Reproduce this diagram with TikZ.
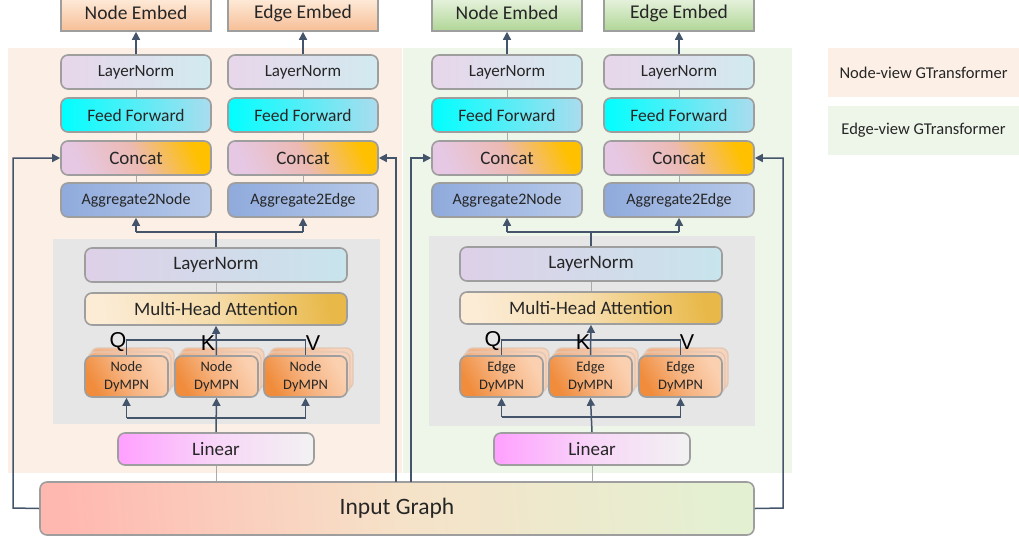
\documentclass[tikz,border=0pt]{standalone}
\usepackage{fontspec}
\setmainfont{Carlito}
\newfontfamily\qkvfont{Liberation Sans}
\usetikzlibrary{arrows.meta}
\definecolor{conn}{HTML}{44546A}
\definecolor{bord}{HTML}{9E9E9E}
\definecolor{thin}{HTML}{ABABAB}
\definecolor{panelO}{HTML}{FCEFE6}
\definecolor{panelG}{HTML}{EEF5E9}
\definecolor{panelGray}{HTML}{E6E6E6}
\tikzset{
  x=1pt, y=-1pt,
  box/.style={draw=bord, line width=1.6pt, rounded corners=7pt, inner sep=0pt, align=center, text=black!85},
  embedO/.style={draw=bord, line width=1.6pt, inner sep=0pt, minimum width=150pt, minimum height=36pt, top color=orange!12!white, bottom color={rgb,255:red,246;green,190;blue,150}, font=\fontsize{19.5}{20}\selectfont, text=black!85},
  embedG/.style={draw=bord, line width=1.6pt, inner sep=0pt, minimum width=150pt, minimum height=36pt, top color={rgb,255:red,236;green,245;blue,229}, bottom color={rgb,255:red,176;green,214;blue,150}, font=\fontsize{19.5}{20}\selectfont, text=black!85},
  colbox/.style={box, minimum width=150pt, minimum height=34pt},
  lnorm/.style={colbox, left color={rgb,255:red,232;green,214;blue,234}, right color={rgb,255:red,210;green,234;blue,240}, font=\fontsize{17}{18}\selectfont},
  ffwd/.style={colbox, left color={rgb,255:red,0;green,255;blue,255}, right color={rgb,255:red,170;green,220;blue,238}, font=\fontsize{17.5}{18}\selectfont},
  concat/.style={colbox, left color={rgb,255:red,230;green,200;blue,228}, right color={rgb,255:red,255;green,192;blue,0}, middle color={rgb,255:red,236;green,186;blue,180}, shading angle=115, font=\fontsize{19}{20}\selectfont},
  aggr/.style={colbox, left color={rgb,255:red,143;green,170;blue,220}, right color={rgb,255:red,184;green,202;blue,234}, font=\fontsize{16}{17}\selectfont},
  ilnorm/.style={box, minimum width=262pt, minimum height=34pt, left color={rgb,255:red,222;green,208;blue,232}, right color={rgb,255:red,200;green,228;blue,236}, font=\fontsize{19}{20}\selectfont},
  mha/.style={box, minimum width=262pt, minimum height=32pt, left color={rgb,255:red,252;green,236;blue,214}, right color={rgb,255:red,232;green,184;blue,72}, middle color={rgb,255:red,246;green,220;blue,170}, shading angle=100, font=\fontsize{19}{20}\selectfont},
  dympn/.style={box, minimum width=83pt, minimum height=41pt, left color={rgb,255:red,240;green,140;blue,60}, right color={rgb,255:red,251;green,208;blue,176}, middle color={rgb,255:red,246;green,180;blue,130}, shading angle=120, font=\fontsize{14.5}{18}\selectfont},
  dymback/.style={draw={rgb,255:red,226;green,200;blue,182}, line width=1.4pt, rounded corners=7pt, left color={rgb,255:red,242;green,170;blue,120}, right color={rgb,255:red,248;green,212;blue,188}, shading angle=120, minimum width=83pt, minimum height=41pt, inner sep=0pt},
  linbox/.style={box, minimum width=196pt, minimum height=32pt, left color={rgb,255:red,255;green,160;blue,255}, right color={rgb,255:red,242;green,242;blue,242}, middle color={rgb,255:red,248;green,214;blue,248}, font=\fontsize{19}{20}\selectfont},
  inputbox/.style={box, minimum width=714pt, minimum height=53pt, left color={rgb,255:red,255;green,184;blue,176}, right color={rgb,255:red,228;green,240;blue,210}, middle color={rgb,255:red,246;green,226;blue,200}, shading angle=95, font=\fontsize{23.5}{24}\selectfont},
  legendbox/.style={inner sep=0pt, minimum width=191pt, minimum height=49pt, font=\fontsize{16.5}{17}\selectfont, text=black!85},
  arr/.style={draw=conn, line width=1.5pt, -{Triangle[width=8pt,length=8pt]}},
  ln/.style={draw=conn, line width=1.5pt},
  gl/.style={draw=thin, line width=1pt},
  qkv/.style={font=\qkvfont\fontsize{21.5}{22}\selectfont, inner sep=0pt}
}
\begin{document}
\begin{tikzpicture}
\useasboundingbox (0,0) rectangle (1019,539);
% panels
\fill[panelO] (8,48) rectangle (402,473);
\fill[panelG] (403,48) rectangle (792,473);
\fill[panelGray] (53,239) rectangle (380,424);
\fill[panelGray] (429,236) rectangle (755,426);
% legend
\node[legendbox, fill=panelO] (legO) at (923.5,72.5) {Node-view GTransformer};
\node[legendbox, fill=panelG] (legG) at (923.5,130) {Edge-view GTransformer};

% embed boxes
\node[embedO] (neA) at (136,13) {Node Embed};
\node[embedO] (eeB) at (303,13) {Edge Embed};
\node[embedG] (neC) at (507,13) {Node Embed};
\node[embedG] (eeD) at (679,13) {Edge Embed};

% columns
\foreach \c/\x in {A/136,B/303,C/507,D/679}{
  \node[lnorm] (ln\c) at (\x,72) {LayerNorm};
  \node[ffwd] (ff\c) at (\x,115) {Feed Forward};
  \node[concat] (cc\c) at (\x,158) {Concat};
  \draw[gl] (ln\c.south) -- (ff\c.north);
  \draw[gl] (ff\c.south) -- (cc\c.north);
}
\node[aggr] (agA) at (136,200) {Aggregate2Node};
\node[aggr] (agB) at (303,200) {Aggregate2Edge};
\node[aggr] (agC) at (507,200) {Aggregate2Node};
\node[aggr] (agD) at (679,200) {Aggregate2Edge};
\foreach \c in {A,B,C,D}{\draw[gl] (cc\c.south) -- (ag\c.north);}
\draw[arr] (lnA.north) -- (neA.south);
\draw[arr] (lnB.north) -- (eeB.south);
\draw[arr] (lnC.north) -- (neC.south);
\draw[arr] (lnD.north) -- (eeD.south);

% inner blocks
\node[ilnorm] (ilL) at (216,265) {LayerNorm};
\node[mha] (mhL) at (216,309) {Multi-Head Attention};
\node[ilnorm] (ilR) at (591,264) {LayerNorm};
\node[mha] (mhR) at (591,308) {Multi-Head Attention};
\draw[gl] (ilL.south) -- (mhL.north);
\draw[gl] (ilR.south) -- (mhR.north);

% DyMPN stacks
\foreach \n/\x/\t in {dL1/126.5/Node, dL2/216.5/Node, dL3/305.5/Node, dR1/501.5/Edge, dR2/590.5/Edge, dR3/680.5/Edge}{
  \node[dymback] at (\x+6,368.5) {};
  \node[dymback] at (\x+3,372.5) {};
  \node[dympn] (\n) at (\x,376.5) {\t\\DyMPN};
}

% Q K V
\coordinate (qL) at (126.5,340);
\coordinate (vL) at (305.5,340);
\coordinate (qR) at (501.5,340);
\coordinate (vR) at (680.5,340);
\draw[ln] (dL1.north) -- (qL) -- (vL) -- (dL3.north);
\draw[arr] (dL2.north) -- (mhL.south);
\draw[ln] (dR1.north) -- (qR) -- (vR) -- (dR3.north);
\draw[arr] (dR2.north) -- (mhR.south);
\node[qkv] (QL) at (118,342) {Q};
\node[qkv] (KL) at (208,343) {K};
\node[qkv] (VL) at (313,343) {V};
\node[qkv] (QR) at (493,341) {Q};
\node[qkv] (KR) at (583,342) {K};
\node[qkv] (VR) at (687,342) {V};

% Linear
\node[linbox] (liL) at (216,449) {Linear};
\node[linbox] (liR) at (592,449) {Linear};
\coordinate (bL1) at (126.5,418);
\coordinate (bL3) at (305.5,418);
\coordinate (bR1) at (501.5,417);
\coordinate (bR3) at (680.5,417);
\draw[ln] (bL1) -- (bL3);
\draw[arr] (bL1) -- (dL1.south);
\draw[arr] (bL3) -- (dL3.south);
\draw[arr] (liL.north) -- (dL2.south);
\draw[ln] (bR1) -- (bR3);
\draw[arr] (bR1) -- (dR1.south);
\draw[arr] (bR3) -- (dR3.south);
\draw[arr] (liR.north) -- (dR2.south);

% aggregate fan-out
\coordinate (tL1) at (136,232);
\coordinate (tL2) at (303,232);
\coordinate (tR1) at (507,232);
\coordinate (tR2) at (679,232);
\draw[ln] (tL1) -- (tL2);
\draw[ln] (ilL.north) -- (216,232);
\draw[arr] (tL1) -- (agA.south);
\draw[arr] (tL2) -- (agB.south);
\draw[ln] (tR1) -- (tR2);
\draw[ln] (ilR.north) -- (591,232);
\draw[arr] (tR1) -- (agC.south);
\draw[arr] (tR2) -- (agD.south);

% input graph
\node[inputbox] (ig) at (397,508.5) {Input Graph};
\draw[gl] (liL.south) -- (liL.south |- ig.north);
\draw[gl] (liR.south) -- (liR.south |- ig.north);

% feedback lines
\coordinate (fl1) at (13,508);
\coordinate (fl2) at (13,158);
\draw[arr] (ig.west) -- (fl1) -- (fl2) -- (ccA.west);
\coordinate (fr1) at (783,508);
\coordinate (fr2) at (783,158);
\draw[arr] (ig.east) -- (fr1) -- (fr2) -- (ccD.east);
\coordinate (fm1) at (396,481.5);
\coordinate (fm2) at (396,158);
\draw[arr] (fm1) -- (fm2) -- (ccB.east);
\coordinate (fn1) at (411,481.5);
\coordinate (fn2) at (411,158);
\draw[arr] (fn1) -- (fn2) -- (ccC.west);
\end{tikzpicture}
\end{document}
